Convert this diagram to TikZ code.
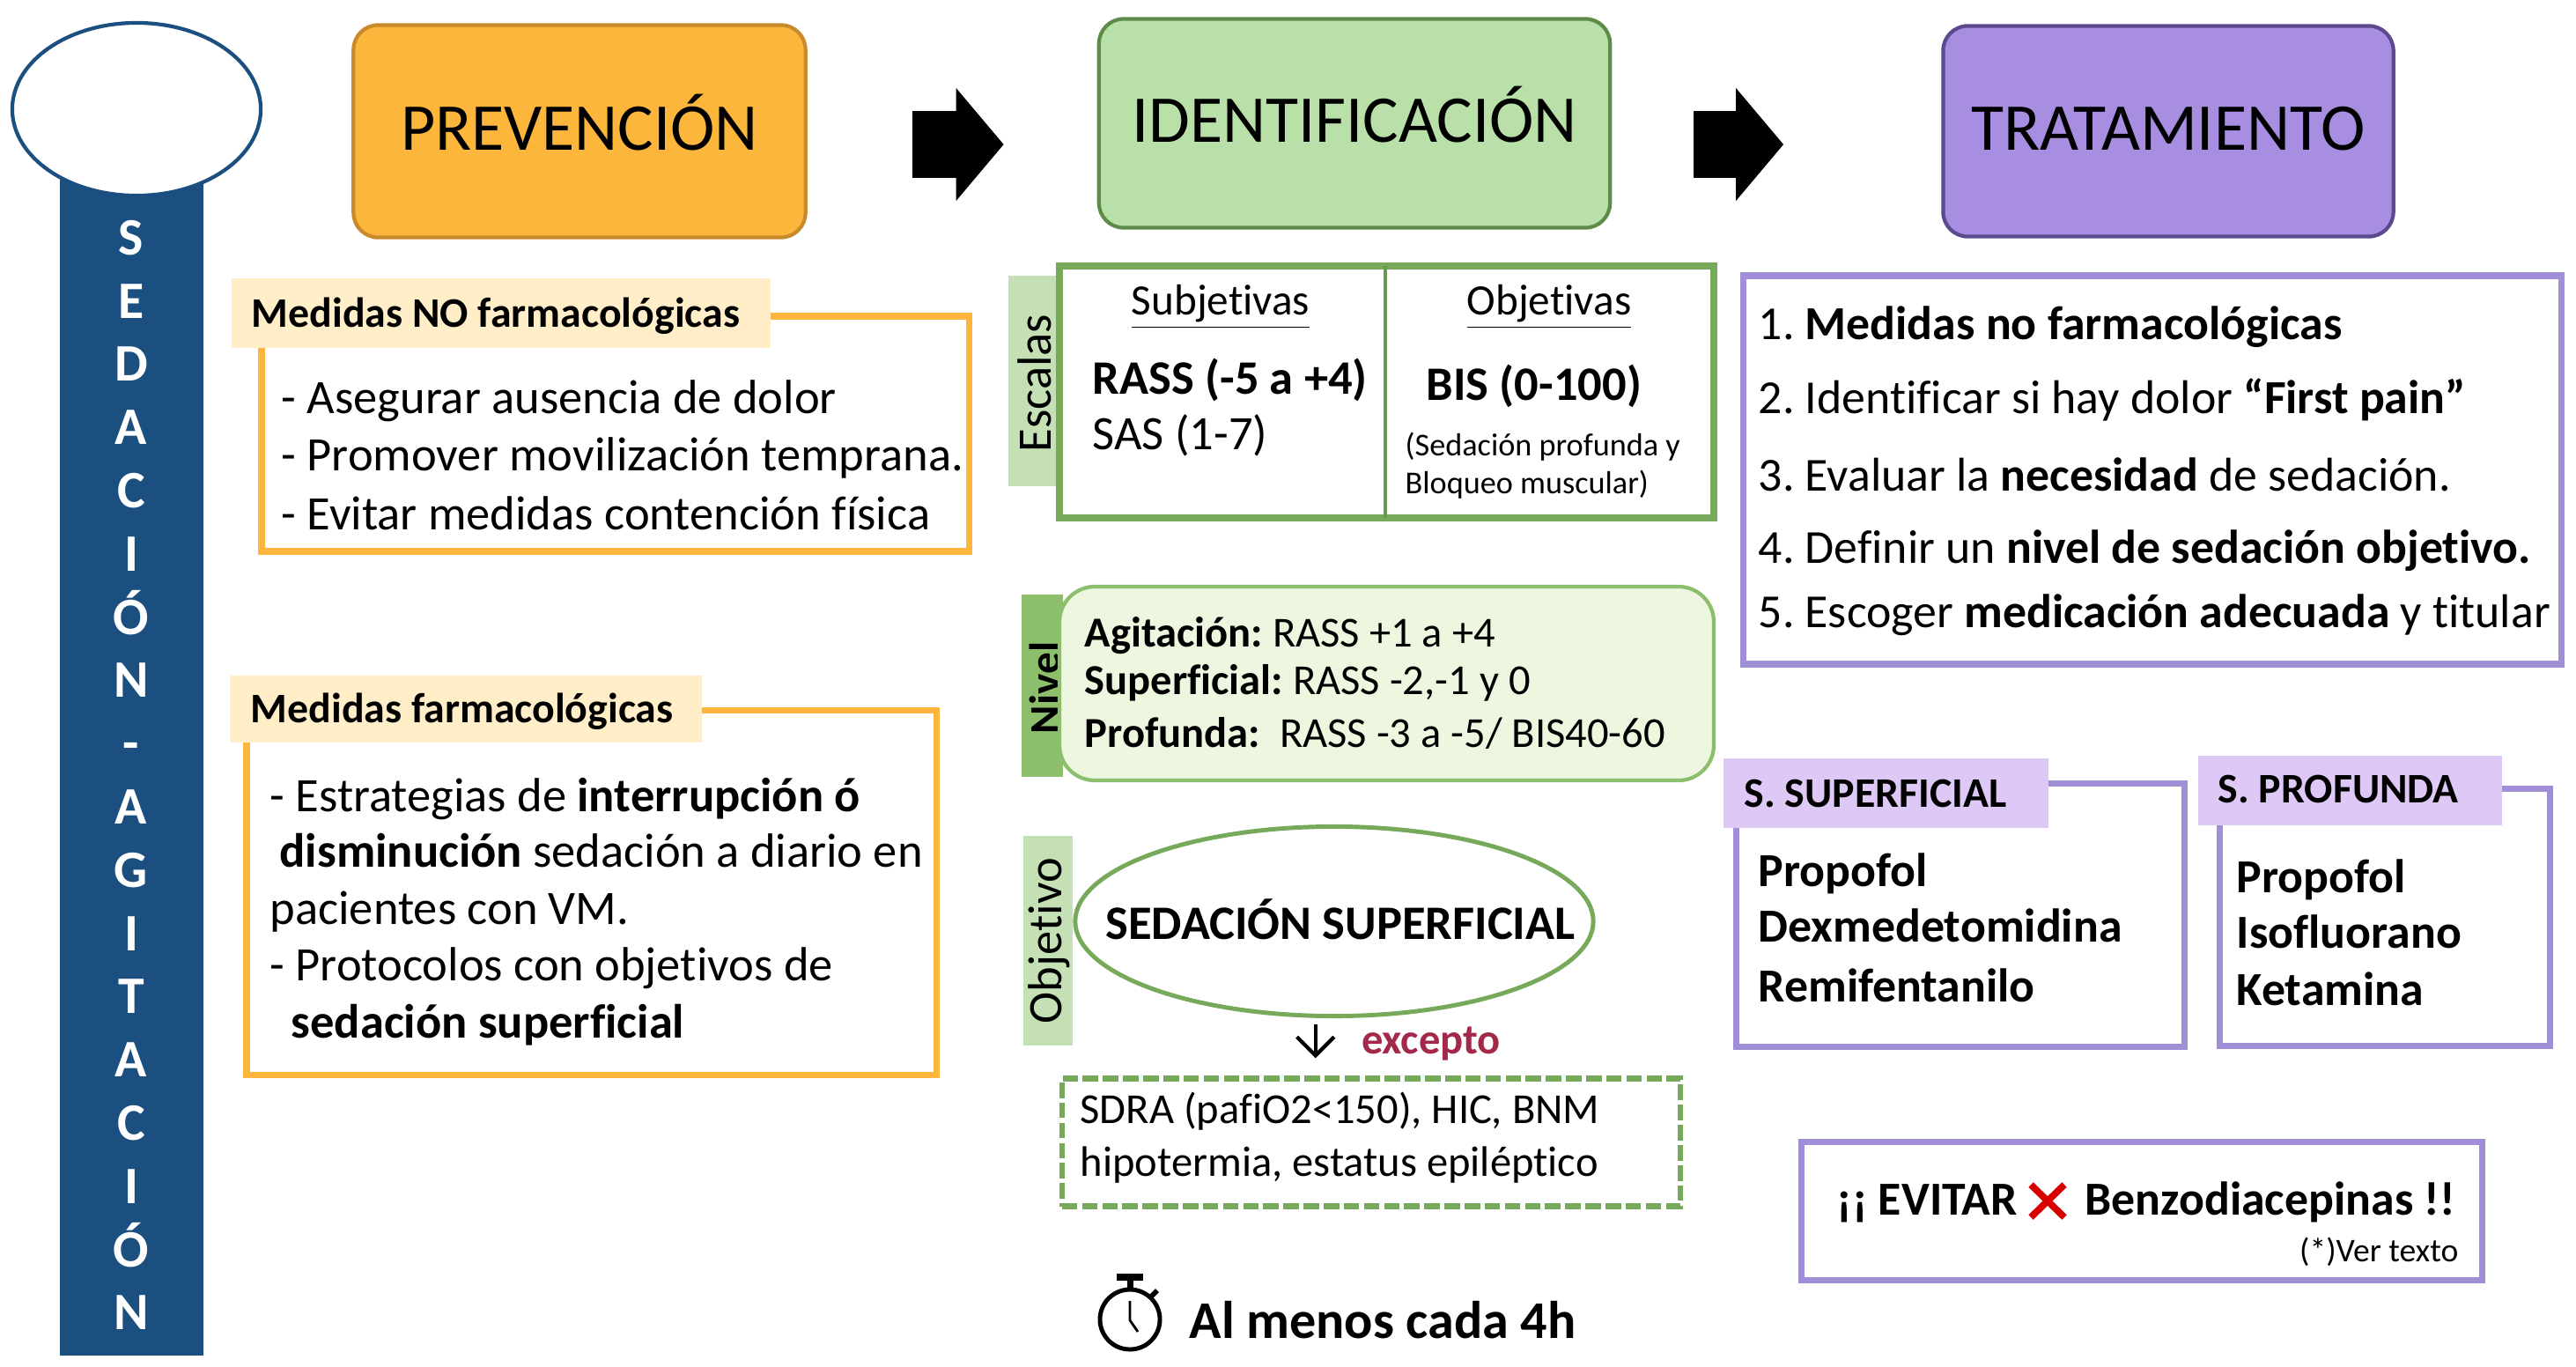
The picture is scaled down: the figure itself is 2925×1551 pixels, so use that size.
\documentclass[tikz,border=0pt]{standalone}
\usepackage{fontspec}
\setmainfont[Ligatures=NoCommon]{Carlito}
\frenchspacing
\usetikzlibrary{
  arrows.meta,
  shapes.geometric,
  positioning, calc
}
\definecolor{sedblue}{HTML}{1B4F7F}
\definecolor{prevfill}{HTML}{FDB63C}
\definecolor{prevline}{HTML}{C98A2C}
\definecolor{prevlabel}{HTML}{FFEEC8}
\definecolor{idfill}{HTML}{B9E0A8}
\definecolor{idline}{HTML}{5E8C48}
\definecolor{idframe}{HTML}{76A95A}
\definecolor{idlabel}{HTML}{C5E0B4}
\definecolor{idmid}{HTML}{8CBE6C}
\definecolor{idsoft}{HTML}{EDF7E0}
\definecolor{trfill}{HTML}{A78EE0}
\definecolor{trline}{HTML}{5B4A8E}
\definecolor{trframe}{HTML}{A08FD6}
\definecolor{trlabel}{HTML}{DDC8F6}
\definecolor{exceptred}{HTML}{A3294A}
\tikzset{
  x=0.01cm,y=-0.01cm,
  titlenode/.style={rectangle,rounded corners=0.28cm,line width=1.2pt,text height=12pt,text depth=0pt,
    font=\fontsize{21.6}{26}\selectfont,inner sep=0pt},
  prevnode/.style={titlenode,fill=prevfill,draw=prevline},
  idnode/.style={titlenode,fill=idfill,draw=idline},
  trnode/.style={titlenode,fill=trfill,draw=trline},
  blockarr/.style={-{Triangle[length=0.54cm,width=1.25cm]},line width=0.76cm,black},
  prevframe/.style={draw=prevfill,line width=2pt},
  idframebox/.style={draw=idframe,line width=2.2pt},
  trframebox/.style={draw=trframe,line width=2pt},
  labeltxt/.style={anchor=west,inner sep=0pt,text height=12pt,text depth=3pt,
    font=\fontsize{13.6}{16}\selectfont\bfseries},
  sidelabel/.style={rotate=90,inner sep=0pt,font=\fontsize{15.5}{19}\selectfont},
  bodytxt/.style={anchor=west,inner sep=0pt,text height=12.6pt,text depth=3pt,
    font=\fontsize{15.5}{18}\selectfont},
  trtxt/.style={bodytxt,font=\fontsize{15.3}{18}\selectfont},
  drugtxt/.style={bodytxt,font=\fontsize{15.3}{18}\selectfont\bfseries},
  nivtxt/.style={bodytxt,font=\fontsize{13.8}{16}\selectfont},
  smalltxt/.style={bodytxt,text height=9.3pt,text depth=2pt,font=\fontsize{10.3}{12}\selectfont},
  sedletter/.style={inner sep=0pt,text height=11pt,text depth=0pt,text=white,
    font=\fontsize{17}{20}\selectfont\bfseries}
}

\begin{document}
\begin{tikzpicture}
  \useasboundingbox (0,0) rectangle (2925,1551);

  % Side band
  \fill[sedblue] (68,190) rectangle (231,1539);
  \node[ellipse,draw=sedblue,fill=white,line width=1.2pt,minimum width=2.82cm,
    minimum height=1.96cm,inner sep=0pt] (sedtop) at (155,124) {};
  \foreach \ltr [count=\i from 0] in {S,E,D,A,C,I,Ó,N,-,A,G,I,T,A,C,I,Ó,N}
    \node[sedletter] (sed\i) at (149,{270+71.8*\i}) {\ltr};

  % Titles
  \node[prevnode,minimum width=5.13cm,minimum height=2.41cm] (prevbox) at (658,149) {PREVENCIÓN};
  \node[idnode,minimum width=5.80cm,minimum height=2.37cm] (idbox) at (1538,140) {IDENTIFICACIÓN};
  \node[trnode,minimum width=5.11cm,minimum height=2.39cm] (trbox) at (2462,149) {TRATAMIENTO};
  \coordinate (arrline) at (0,164);
  \draw[blockarr,shorten <=1.19cm,shorten >=1.06cm] (prevbox.east |- arrline) -- (idbox.west |- arrline);
  \draw[blockarr,shorten <=0.93cm,shorten >=1.79cm] (idbox.east |- arrline) -- (trbox.west |- arrline);

  % Medidas NO farmacologicas
  \draw[prevframe] (297,359) rectangle (1100,626);
  \fill[prevlabel] (263,316) rectangle (875,395);
  \node[labeltxt] (noflabel) at (285,356) {Medidas NO farmacológicas};
  \node[bodytxt] (nof1) at (319,453) {- Asegurar ausencia de dolor};
  \node[bodytxt] (nof2) at (319,518) {- Promover movilización temprana.};
  \node[bodytxt] (nof3) at (319,585) {- Evitar medidas contención física};

  % Medidas farmacologicas
  \draw[prevframe] (280,806) rectangle (1063,1220);
  \fill[prevlabel] (261,767) rectangle (797,843);
  \node[labeltxt] (farlabel) at (284,805) {Medidas farmacológicas};
  \node[bodytxt] (far1) at (306,905) {- Estrategias de \textbf{interrupción ó}};
  \node[bodytxt] (far2) at (317,968) {\textbf{disminución} sedación a diario en};
  \node[bodytxt] (far3) at (306,1033) {pacientes con VM.};
  \node[bodytxt] (far4) at (306,1097) {- Protocolos con objetivos de};
  \node[bodytxt] (far5) at (330,1162) {\textbf{sedación superficial}};

  % Escalas
  \fill[idlabel] (1145,313) rectangle (1203,552);
  \node[sidelabel] (esclabel) at (1175,435) {Escalas};
  \draw[idframebox] (1203,302) rectangle (1946,588);
  \draw[idframe!90!black,line width=1.4pt] (1573,302) -- (1573,588);
  \node[bodytxt,anchor=center,font=\fontsize{14}{17}\selectfont] (subj) at (1386,341) {\underline{Subjetivas}};
  \node[bodytxt,anchor=center,font=\fontsize{14}{17}\selectfont] (obje) at (1759,341) {\underline{Objetivas}};
  \node[bodytxt] (rass) at (1240,431) {\textbf{RASS (-5 a +4)}};
  \node[bodytxt] (sas) at (1240,494) {SAS (1-7)};
  \node[bodytxt] (bis) at (1619,438) {\textbf{BIS (0-100)}};
  \node[smalltxt] (bisa) at (1595,505) {(Sedación profunda y};
  \node[smalltxt] (bisb) at (1595,548) {Bloqueo muscular)};

  % Nivel
  \fill[idmid] (1160,675) rectangle (1207,882);
  \node[sidelabel,font=\fontsize{14}{17}\selectfont\bfseries] (nivlabel) at (1186,781) {Nivel};
  \draw[fill=idsoft,draw=idmid,line width=1.2pt,rounded corners=0.4cm] (1203,666) rectangle (1946,886);
  \node[nivtxt] (niv1) at (1231,718) {\textbf{Agitación:} RASS +1 a +4};
  \node[nivtxt] (niv2) at (1231,772) {\textbf{Superficial:} RASS -2,-1 y 0};
  \node[nivtxt] (niv3) at (1231,832) {\textbf{Profunda:}\ \ RASS -3 a -5/ BIS40-60};

  % Objetivo
  \fill[idlabel] (1162,949) rectangle (1218,1187);
  \node[sidelabel] (objlabel) at (1191,1068) {Objetivo};
  \node[ellipse,draw=idframe,line width=1.4pt,minimum width=5.88cm,minimum height=2.15cm,
    inner sep=0pt] (objell) at (1515,1046) {};
  \node[inner sep=0pt,font=\fontsize{15.5}{18}\selectfont\bfseries] (objtxt) at (1522,1044) {SEDACIÓN SUPERFICIAL};
  \node[draw=idframe,dash pattern=on 5pt off 1.5pt,line width=1.8pt,minimum width=7.02cm,
    minimum height=1.45cm,inner sep=0pt] (excbox) at (1557,1297) {};
  \draw[-{Straight Barb[length=6pt,width=12pt]},line width=1.2pt,shorten <=0.07cm,shorten >=0.2cm]
    (objell.259) -- (objell.259 |- excbox.north);
  \node[bodytxt,text=exceptred,anchor=center,font=\fontsize{13.8}{16}\selectfont\bfseries] (except) at (1625,1180) {excepto};
  \node[nivtxt] (exc1) at (1226,1259) {SDRA (pafiO2<150), HIC, BNM};
  \node[nivtxt] (exc2) at (1226,1319) {hipotermia, estatus epiléptico};

  % Stopwatch
  \draw[line width=1.4pt] (1283,1498) circle (0.34cm);
  \draw[line width=2pt] (1283,1464) -- (1283,1452);
  \draw[line width=2.4pt] (1268,1450) -- (1298,1450);
  \draw[line width=1.6pt] (1307,1472) -- (1314,1465);
  \draw[line width=0.8pt] (1283,1477) -- (1283,1499) -- (1292,1512);
  \node[bodytxt,font=\fontsize{17.1}{20}\selectfont\bfseries] (cada) at (1350,1503) {Al menos cada 4h};

  % Tratamiento
  \draw[trframebox] (1979,313) rectangle (2908,754);
  \node[trtxt] (tr1) at (1996,369) {1. \textbf{Medidas no farmacológicas}};
  \node[trtxt] (tr2) at (1996,453) {2. Identificar si hay dolor \textbf{“First pain”}};
  \node[trtxt] (tr3) at (1996,541) {3. Evaluar la \textbf{necesidad} de sedación.};
  \node[trtxt] (tr4) at (1996,623) {4. Definir un \textbf{nivel de sedación objetivo.}};
  \node[trtxt] (tr5) at (1996,696) {5. Escoger \textbf{medicación adecuada} y titular};

  % S. superficial
  \draw[trframebox] (1971,889) rectangle (2480,1188);
  \fill[trlabel] (1957,861) rectangle (2326,940);
  \node[labeltxt] (suplabel) at (1980,901) {S. SUPERFICIAL};
  \node[drugtxt] (sup1) at (1996,990) {Propofol};
  \node[drugtxt] (sup2) at (1996,1053) {Dexmedetomidina};
  \node[drugtxt] (sup3) at (1996,1121) {Remifentanilo};

  % S. profunda
  \draw[trframebox] (2520,895) rectangle (2895,1187);
  \fill[trlabel] (2496,858) rectangle (2841,937);
  \node[labeltxt] (prolabel) at (2518,896) {S. PROFUNDA};
  \node[drugtxt] (pro1) at (2539,997) {Propofol};
  \node[drugtxt] (pro2) at (2539,1060) {Isofluorano};
  \node[drugtxt] (pro3) at (2539,1125) {Ketamina};

  % Evitar
  \draw[trframebox] (2045,1296) rectangle (2818,1453);
  \node[drugtxt] (evi1) at (2085,1363) {¡¡ EVITAR};
  \draw[red!85!black,line width=2.2pt] (2306,1345) -- (2344,1382) (2344,1345) -- (2306,1382);
  \node[drugtxt] (evi2) at (2367,1363) {Benzodiacepinas !!};
  \node[smalltxt,anchor=east,font=\fontsize{10.7}{12}\selectfont] (evi3) at (2792,1420) {(*)Ver texto};

\end{tikzpicture}
\end{document}
